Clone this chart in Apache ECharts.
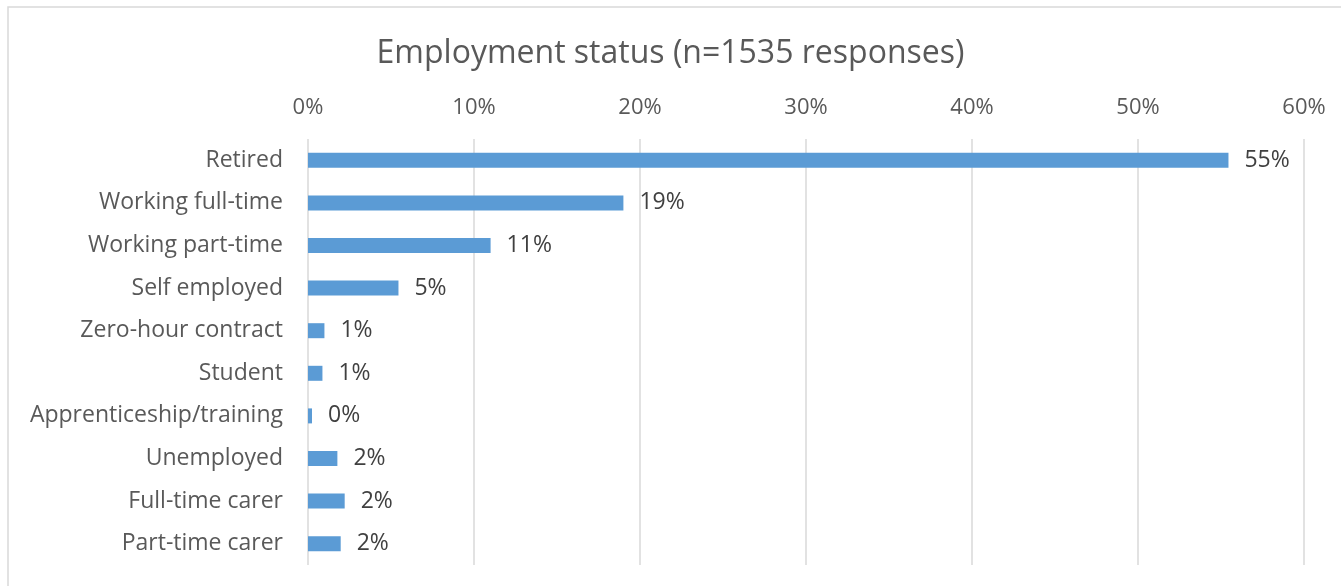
<!DOCTYPE html>
<html>
<head>
<meta charset="utf-8">
<script src="https://cdn.jsdelivr.net/npm/echarts@6/dist/echarts.min.js"></script>
<style>
  html, body { margin: 0; padding: 0; background: #fff; }
  #main { width: 1341px; height: 586px; }
</style>
</head>
<body>
<div id="main"></div>
<script>
// categories top to bottom
const categories = ['Retired', 'Working full-time', 'Working part-time', 'Self employed',
  'Zero-hour contract', 'Student', 'Apprenticeship/training', 'Unemployed',
  'Full-time carer', 'Part-time carer'];
// percent of responses
const values = [55.45, 19.0, 11.0, 5.45, 0.99, 0.87, 0.24, 1.77, 2.21, 1.97];
const axisTicks = [0, 10, 20, 30, 40, 50, 60];

const chart = echarts.init(document.getElementById('main'));
const font = '"Open Sans", sans-serif';

const option = {
  animation: false,
  title: {
    text: 'Employment status (n=1535 responses)',
    left: 'center',
    top: 33,
    textStyle: { fontFamily: font, fontSize: 32, fontWeight: 'normal', color: '#595959' }
  },
  graphic: [{
    type: 'rect',
    shape: { x: 8, y: 7, width: 1340, height: 600 },
    style: { fill: 'none', stroke: '#d9d9d9', lineWidth: 1.5 },
    silent: true
  }],
  grid: { left: 308, right: 37, top: 139, bottom: 21 },
  xAxis: {
    type: 'value',
    position: 'top',
    min: axisTicks[0],
    max: axisTicks[axisTicks.length - 1],
    interval: 10,
    axisLine: { show: false },
    axisTick: { show: false },
    axisLabel: {
      formatter: v => v + '%',
      fontFamily: font, fontSize: 22, color: '#595959', margin: 20
    },
    splitLine: { lineStyle: { color: '#d9d9d9', width: 1.5 } }
  },
  yAxis: {
    type: 'category',
    inverse: true,
    data: categories,
    axisLine: { show: false },
    axisTick: { show: false },
    axisLabel: { fontFamily: font, fontSize: 23, color: '#595959', margin: 25 }
  },
  series: [{
    type: 'bar',
    data: values,
    barWidth: 15,
    itemStyle: { color: '#5b9bd5' },
    label: {
      show: true,
      position: 'right',
      distance: 16,
      formatter: p => Math.round(p.value) + '%',
      fontFamily: font, fontSize: 23, color: '#404040'
    }
  }]
};
chart.setOption(option);
</script>
</body>
</html>
